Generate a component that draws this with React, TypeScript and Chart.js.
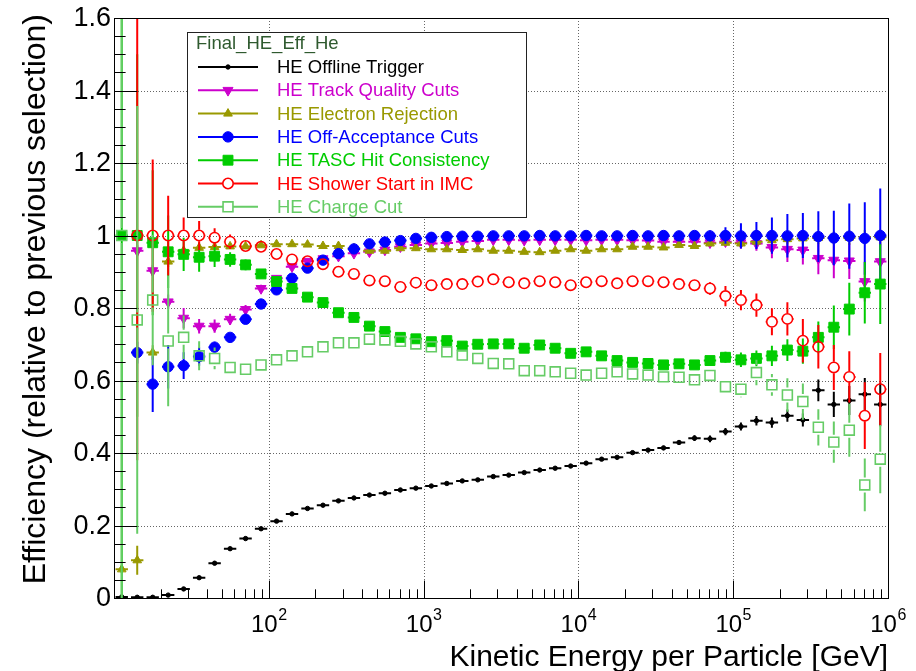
import React, { useEffect, useRef } from 'react';
import { Chart, registerables } from 'chart.js';

Chart.register(...registerables);

// ---------- data ----------
const binCentersLog10 = [
  1.05, 1.15, 1.25, 1.35, 1.45, 1.55, 1.65, 1.75, 1.85, 1.95,
  2.05, 2.15, 2.25, 2.35, 2.45, 2.55, 2.65, 2.75, 2.85, 2.95,
  3.05, 3.15, 3.25, 3.35, 3.45, 3.55, 3.65, 3.75, 3.85, 3.95,
  4.05, 4.15, 4.25, 4.35, 4.45, 4.55, 4.65, 4.75, 4.85, 4.95,
  5.05, 5.15, 5.25, 5.35, 5.45, 5.55, 5.65, 5.75, 5.85, 5.95,
];
const binHalfWidthLog10 = 0.04;

const yTicks = [0, 0.2, 0.4, 0.6, 0.8, 1, 1.2, 1.4, 1.6];
const yTickLabels = ['0', '0.2', '0.4', '0.6', '0.8', '1', '1.2', '1.4', '1.6'];
const xDecadeExponents = [2, 3, 4, 5, 6];

const legendHeader = 'Final_HE_Eff_He';
const xTitle = 'Kinetic Energy per Particle [GeV]';
const yTitle = 'Efficiency (relative to previous selection)';

const offlineTrigger = [
  0.003, 0.002, 0.002, 0.008, 0.025, 0.056, 0.096, 0.136, 0.164, 0.191,
  0.212, 0.232, 0.247, 0.256, 0.268, 0.276, 0.284, 0.289, 0.298, 0.303,
  0.309, 0.316, 0.323, 0.326, 0.335, 0.339, 0.346, 0.353, 0.358, 0.364,
  0.372, 0.383, 0.388, 0.401, 0.408, 0.414, 0.429, 0.441, 0.439, 0.459,
  0.473, 0.489, 0.484, 0.503, 0.491, 0.573, 0.534, 0.545, 0.562, 0.534,
];
const offlineTriggerErr = [
  0.002, 0.002, 0.002, 0.003, 0.004, 0.005, 0.005, 0.005, 0.005, 0.005,
  0.005, 0.004, 0.004, 0.004, 0.004, 0.004, 0.004, 0.004, 0.004, 0.004,
  0.004, 0.004, 0.004, 0.004, 0.004, 0.004, 0.004, 0.004, 0.004, 0.004,
  0.005, 0.005, 0.005, 0.005, 0.006, 0.006, 0.007, 0.008, 0.009, 0.01,
  0.011, 0.013, 0.014, 0.017, 0.018, 0.03, 0.035, 0.04, 0.045, 0.06,
];

const trackQuality = [
  null, 0.958, 0.903, 0.817, 0.772, 0.75, 0.75, 0.769, 0.796, 0.854,
  0.882, 0.914, 0.929, 0.936, 0.943, 0.951, 0.955, 0.96, 0.969, 0.974,
  0.978, 0.979, 0.983, 0.985, 0.988, 0.988, 0.987, 0.988, 0.988, 0.988,
  0.987, 0.988, 0.988, 0.987, 0.986, 0.983, 0.983, 0.983, 0.98, 0.983,
  0.98, 0.978, 0.967, 0.962, 0.96, 0.937, 0.932, 0.93, 0.873, 0.928,
];
const trackQualityErr = [
  null, 0.015, 0.015, 0.02, 0.028, 0.02, 0.018, 0.015, 0.012, 0.01,
  0.008, 0.007, 0.006, 0.005, 0.005, 0.004, 0.004, 0.004, 0.003, 0.003,
  0.003, 0.003, 0.003, 0.003, 0.003, 0.003, 0.003, 0.003, 0.003, 0.003,
  0.003, 0.003, 0.003, 0.004, 0.004, 0.005, 0.006, 0.008, 0.01, 0.012,
  0.015, 0.02, 0.03, 0.035, 0.04, 0.044, 0.05, 0.05, 0.055, 0.06,
];

const electronRejection = [
  0.079, 0.104, 0.677, 0.928, 0.958, 0.966, 0.968, 0.97, 0.97, 0.973,
  0.976, 0.976, 0.975, 0.971, 0.971, 0.965, 0.958, 0.958, 0.965, 0.965,
  0.962, 0.962, 0.96, 0.962, 0.958, 0.958, 0.955, 0.954, 0.958, 0.962,
  0.958, 0.962, 0.962, 0.969, 0.969, 0.967, 0.974, 0.971, 0.978, 0.98,
  0.978, 0.983, 0.987, 0.99, 0.992, 0.993, 0.993, 0.994, 0.995, 0.995,
];
const electronRejectionErr = [
  0.01, 0.04, 0.02, 0.015, 0.01, 0.008, 0.006, 0.005, 0.005, 0.004,
  0.004, 0.004, 0.004, 0.004, 0.004, 0.004, 0.004, 0.004, 0.004, 0.004,
  0.004, 0.004, 0.004, 0.004, 0.004, 0.004, 0.004, 0.004, 0.004, 0.004,
  0.004, 0.004, 0.004, 0.004, 0.004, 0.005, 0.005, 0.006, 0.007, 0.008,
  0.01, 0.012, 0.014, 0.015, 0.016, 0.017, 0.018, 0.02, 0.02, 0.022,
];

const offAcceptance = [
  null, 0.677, 0.59, 0.638, 0.641, 0.666, 0.692, 0.719, 0.769, 0.811,
  0.85, 0.882, 0.91, 0.932, 0.95, 0.963, 0.977, 0.982, 0.986, 0.992,
  0.995, 0.997, 0.998, 0.998, 0.999, 0.999, 0.999, 1.0, 0.999, 0.999,
  1.0, 0.999, 0.999, 1.0, 0.999, 1.0, 0.999, 1.0, 0.999, 1.0,
  0.999, 1.0, 1.0, 0.999, 1.0, 0.997, 0.993, 0.998, 0.992, 1.0,
];
const offAcceptanceErr = [
  null, 0.03, 0.077, 0.06, 0.037, 0.025, 0.015, 0.012, 0.01, 0.008,
  0.007, 0.006, 0.005, 0.004, 0.004, 0.003, 0.003, 0.003, 0.002, 0.002,
  0.002, 0.002, 0.002, 0.002, 0.002, 0.002, 0.002, 0.002, 0.002, 0.002,
  0.002, 0.002, 0.002, 0.003, 0.003, 0.004, 0.006, 0.01, 0.015, 0.023,
  0.035, 0.037, 0.05, 0.06, 0.062, 0.07, 0.075, 0.09, 0.1, 0.13,
];

const tascHit = [
  1.0, 1.0, 0.98, 0.955, 0.948, 0.94, 0.943, 0.934, 0.919, 0.894,
  0.873, 0.854, 0.83, 0.815, 0.787, 0.774, 0.75, 0.735, 0.719, 0.715,
  0.707, 0.71, 0.695, 0.7, 0.701, 0.701, 0.689, 0.698, 0.689, 0.675,
  0.679, 0.668, 0.655, 0.65, 0.647, 0.643, 0.646, 0.643, 0.655, 0.664,
  0.657, 0.661, 0.668, 0.684, 0.681, 0.719, 0.747, 0.797, 0.842, 0.866,
];
const tascHitErr = [
  1.2, 0.5, 0.2, 0.1, 0.046, 0.04, 0.03, 0.02, 0.015, 0.012,
  0.01, 0.008, 0.007, 0.006, 0.006, 0.005, 0.005, 0.005, 0.005, 0.005,
  0.005, 0.005, 0.005, 0.005, 0.005, 0.005, 0.005, 0.005, 0.005, 0.005,
  0.005, 0.006, 0.006, 0.006, 0.007, 0.008, 0.009, 0.01, 0.012, 0.015,
  0.02, 0.022, 0.028, 0.03, 0.035, 0.044, 0.06, 0.073, 0.085, 0.11,
];

const showerStart = [
  null, 1.0, 1.0, 1.0, 1.0, 1.0, 0.994, 0.983, 0.971, 0.969,
  0.949, 0.934, 0.929, 0.921, 0.9, 0.894, 0.876, 0.874, 0.858, 0.87,
  0.863, 0.866, 0.866, 0.873, 0.879, 0.871, 0.868, 0.874, 0.871, 0.863,
  0.871, 0.874, 0.868, 0.874, 0.874, 0.871, 0.866, 0.863, 0.854, 0.833,
  0.822, 0.808, 0.762, 0.77, 0.71, 0.693, 0.636, 0.61, 0.503, 0.576,
];
const showerStartErr = [
  null, 0.62, 0.21, 0.11, 0.05, 0.04, 0.026, 0.02, 0.015, 0.012,
  0.01, 0.008, 0.007, 0.006, 0.006, 0.006, 0.006, 0.006, 0.006, 0.006,
  0.006, 0.006, 0.006, 0.006, 0.006, 0.006, 0.006, 0.006, 0.006, 0.006,
  0.006, 0.006, 0.007, 0.007, 0.008, 0.009, 0.01, 0.014, 0.018, 0.028,
  0.028, 0.032, 0.037, 0.046, 0.06, 0.06, 0.062, 0.071, 0.092, 0.1,
];

const chargeCut = [
  1.0, 0.767, 0.822, 0.709, 0.719, 0.668, 0.661, 0.636, 0.631, 0.643,
  0.657, 0.668, 0.679, 0.693, 0.704, 0.704, 0.714, 0.712, 0.708, 0.701,
  0.693, 0.679, 0.67, 0.661, 0.647, 0.646, 0.627, 0.627, 0.624, 0.62,
  0.615, 0.62, 0.624, 0.618, 0.615, 0.61, 0.609, 0.602, 0.614, 0.583,
  0.576, 0.622, 0.588, 0.56, 0.542, 0.471, 0.43, 0.463, 0.312, 0.383,
];
const chargeCutErr = [
  1.2, 0.59, 0.18, 0.18, 0.06, 0.04, 0.03, 0.02, 0.015, 0.012,
  0.01, 0.008, 0.007, 0.006, 0.006, 0.006, 0.006, 0.006, 0.006, 0.006,
  0.006, 0.006, 0.006, 0.006, 0.006, 0.006, 0.006, 0.006, 0.006, 0.006,
  0.007, 0.007, 0.008, 0.008, 0.009, 0.01, 0.011, 0.013, 0.015, 0.02,
  0.022, 0.035, 0.03, 0.046, 0.05, 0.05, 0.057, 0.073, 0.073, 0.094,
];

const seriesLabels = [
  'HE Offline Trigger',
  'HE Track Quality Cuts',
  'HE Electron Rejection',
  'HE Off-Acceptance Cuts',
  'HE TASC Hit Consistency',
  'HE Shower Start in IMC',
  'HE Charge Cut',
];

// ---------- styles ----------
const FONT = '"Liberation Sans", Arial, Helvetica, sans-serif';
type Style = { color: string; shape: string; radius: number; rot: number; filled: boolean; bw: number };
const seriesStyles: Style[] = [
  { color: '#000000', shape: 'circle', radius: 2.2, rot: 0, filled: true, bw: 1 },
  { color: '#cc00cc', shape: 'triangle', radius: 5.8, rot: 180, filled: true, bw: 1 },
  { color: '#999900', shape: 'triangle', radius: 5, rot: 0, filled: true, bw: 1 },
  { color: '#0000ff', shape: 'circle', radius: 5.2, rot: 0, filled: true, bw: 1 },
  { color: '#00cc00', shape: 'rect', radius: 7, rot: 0, filled: true, bw: 1 },
  { color: '#ff0000', shape: 'circle', radius: 5.2, rot: 0, filled: false, bw: 1.6 },
  { color: '#66cc66', shape: 'rect', radius: 7, rot: 0, filled: false, bw: 1.6 },
];

const seriesValues = [offlineTrigger, trackQuality, electronRejection, offAcceptance, tascHit, showerStart, chargeCut];
const seriesErrors = [offlineTriggerErr, trackQualityErr, electronRejectionErr, offAcceptanceErr, tascHitErr, showerStartErr, chargeCutErr];

function markerPath(ctx: CanvasRenderingContext2D, shape: string, x: number, y: number, r: number, rot: number) {
  ctx.beginPath();
  if (shape === 'circle') {
    ctx.arc(x, y, r, 0, Math.PI * 2);
  } else if (shape === 'triangle') {
    let a = (rot * Math.PI) / 180;
    ctx.moveTo(x + Math.sin(a) * r, y - Math.cos(a) * r);
    a += (2 * Math.PI) / 3;
    ctx.lineTo(x + Math.sin(a) * r, y - Math.cos(a) * r);
    a += (2 * Math.PI) / 3;
    ctx.lineTo(x + Math.sin(a) * r, y - Math.cos(a) * r);
    ctx.closePath();
  } else {
    const s = Math.SQRT1_2 * r;
    ctx.rect(x - s, y - s, 2 * s, 2 * s);
  }
}

const errorBarPlugin = {
  id: 'errorBars',
  beforeDatasetDraw(chart: any, args: any) {
    const ds = chart.data.datasets[args.index];
    const { ctx, chartArea: a } = chart;
    const xs = chart.scales.x;
    const ys = chart.scales.y;
    ctx.save();
    ctx.beginPath();
    ctx.rect(a.left, a.top, a.right - a.left, a.bottom - a.top);
    ctx.clip();
    ctx.strokeStyle = ds.borderColor;
    ctx.lineWidth = 2;
    ctx.lineCap = 'butt';
    const g = ds.errGap;
    ctx.beginPath();
    for (const p of ds.data) {
      const px = xs.getPixelForValue(p.x);
      const py = ys.getPixelForValue(p.y);
      const lg = Math.log10(p.x);
      const xl = xs.getPixelForValue(Math.pow(10, lg - binHalfWidthLog10));
      const xr = xs.getPixelForValue(Math.pow(10, lg + binHalfWidthLog10));
      const yt = ys.getPixelForValue(p.y + p.e);
      const yb = ys.getPixelForValue(p.y - p.e);
      if (px - g > xl) { ctx.moveTo(xl, py); ctx.lineTo(px - g, py); }
      if (xr > px + g) { ctx.moveTo(px + g, py); ctx.lineTo(xr, py); }
      if (py - g > yt) { ctx.moveTo(px, yt); ctx.lineTo(px, py - g); }
      if (yb > py + g) { ctx.moveTo(px, py + g); ctx.lineTo(px, yb); }
    }
    ctx.stroke();
    ctx.restore();
  },
};

const frameAxesPlugin = {
  id: 'frameAxes',
  beforeDatasetsDraw(chart: any) {
    const { ctx, chartArea: a } = chart;
    const xs = chart.scales.x;
    const ys = chart.scales.y;
    ctx.save();
    ctx.strokeStyle = '#666666';
    ctx.lineWidth = 1;
    ctx.setLineDash([1, 2]);
    ctx.beginPath();
    for (const v of yTicks) {
      const y = Math.round(ys.getPixelForValue(v)) + 0.5;
      if (y <= a.top + 1 || y >= a.bottom - 1) continue;
      ctx.moveTo(a.left, y);
      ctx.lineTo(a.right, y);
    }
    for (const e of xDecadeExponents) {
      const x = Math.round(xs.getPixelForValue(Math.pow(10, e))) + 0.5;
      if (x <= a.left + 1 || x >= a.right - 1) continue;
      ctx.moveTo(x, a.top);
      ctx.lineTo(x, a.bottom);
    }
    ctx.stroke();
    ctx.restore();
  },
  afterDatasetsDraw(chart: any) {
    const { ctx, chartArea: a } = chart;
    const xs = chart.scales.x;
    const ys = chart.scales.y;
    const w = a.right - a.left;
    const h = a.bottom - a.top;
    ctx.save();
    // frame
    ctx.strokeStyle = '#000000';
    ctx.lineWidth = 1;
    ctx.strokeRect(Math.round(a.left) + 0.5, Math.round(a.top) + 0.5, Math.round(w), Math.round(h));
    // y ticks
    const yMaj = 0.03 * w;
    ctx.beginPath();
    for (let i = 0; i < yTicks.length; i++) {
      const v = yTicks[i];
      const y = Math.round(ys.getPixelForValue(v)) + 0.5;
      ctx.moveTo(a.left, y);
      ctx.lineTo(a.left + yMaj, y);
      if (i < yTicks.length - 1) {
        const step = (yTicks[i + 1] - v) / 4;
        for (let k = 1; k < 4; k++) {
          const ym = Math.round(ys.getPixelForValue(v + k * step)) + 0.5;
          ctx.moveTo(a.left, ym);
          ctx.lineTo(a.left + yMaj / 2, ym);
        }
      }
    }
    // x ticks
    const xMaj = 0.03 * h;
    const e0 = Math.round(Math.log10(xs.min));
    const e1 = Math.round(Math.log10(xs.max));
    for (let e = e0; e <= e1; e++) {
      for (let m = 1; m <= 9; m++) {
        const v = m * Math.pow(10, e);
        if (v <= xs.min || v > xs.max) continue;
        const x = Math.round(xs.getPixelForValue(v)) + 0.5;
        ctx.moveTo(x, a.bottom);
        ctx.lineTo(x, a.bottom - (m === 1 ? xMaj : xMaj / 2));
      }
    }
    ctx.stroke();

    // y labels
    ctx.fillStyle = '#000000';
    ctx.font = `27px ${FONT}`;
    ctx.textAlign = 'right';
    ctx.textBaseline = 'middle';
    yTicks.forEach((v, i) => {
      ctx.fillText(yTickLabels[i], a.left - 3, ys.getPixelForValue(v) + 1);
    });
    // x labels 10^n
    ctx.textAlign = 'left';
    ctx.textBaseline = 'alphabetic';
    for (const e of xDecadeExponents) {
      const x = xs.getPixelForValue(Math.pow(10, e));
      ctx.font = `24px ${FONT}`;
      const wb = ctx.measureText('10').width;
      ctx.font = `16px ${FONT}`;
      const we = ctx.measureText(String(e)).width;
      const x0 = x - (wb + we) / 2;
      ctx.font = `24px ${FONT}`;
      ctx.fillText('10', x0, a.bottom + 34);
      ctx.font = `16px ${FONT}`;
      ctx.fillText(String(e), x0 + wb + 0.5, a.bottom + 22);
    }
    // titles
    ctx.font = `30px ${FONT}`;
    ctx.textAlign = 'right';
    ctx.fillText(xTitle, a.right, 666);
    ctx.save();
    ctx.translate(45, a.top - 4);
    ctx.rotate(-Math.PI / 2);
    ctx.font = `32px ${FONT}`;
    ctx.textAlign = 'right';
    ctx.fillText(yTitle, 0, 0);
    ctx.restore();
    ctx.restore();
  },
  afterDraw(chart: any) {
    const { ctx } = chart;
    ctx.save();
    const bx = 187, by = 32, bw = 339, bh = 185;
    ctx.fillStyle = '#ffffff';
    ctx.fillRect(bx, by, bw, bh);
    ctx.strokeStyle = '#222222';
    ctx.lineWidth = 1;
    ctx.strokeRect(bx + 0.5, by + 0.5, bw, bh);
    ctx.font = `18.5px ${FONT}`;
    ctx.textBaseline = 'middle';
    ctx.textAlign = 'left';
    ctx.fillStyle = '#2f5a2f';
    ctx.fillText(legendHeader, 196, 44);
    seriesLabels.forEach((lab, i) => {
      const st = seriesStyles[i];
      const y = 67 + 23.3 * i;
      ctx.strokeStyle = st.color;
      ctx.lineWidth = 2;
      ctx.beginPath();
      ctx.moveTo(198, y);
      ctx.lineTo(258, y);
      ctx.stroke();
      markerPath(ctx, st.shape, 228, y, st.radius, st.rot);
      ctx.fillStyle = st.filled ? st.color : '#ffffff';
      ctx.fill();
      ctx.lineWidth = st.bw;
      ctx.stroke();
      ctx.fillStyle = st.color;
      ctx.fillText(lab, 277, y + 1);
    });
    ctx.restore();
  },
};

export default function App() {
  const ref = useRef<HTMLCanvasElement>(null);
  useEffect(() => {
    document.body.style.margin = '0';
    const datasets = seriesLabels.map((label, i) => {
      const st = seriesStyles[i];
      const vals = seriesValues[i];
      const errs = seriesErrors[i];
      const data: any[] = [];
      binCentersLog10.forEach((c, k) => {
        const v = vals[k];
        if (v === null || v === undefined) return;
        data.push({ x: Math.pow(10, c), y: v, e: errs[k] ?? 0 });
      });
      return {
        label,
        data,
        showLine: false,
        order: seriesLabels.length - 1 - i,
        borderColor: st.color,
        backgroundColor: st.color,
        pointStyle: st.shape,
        pointRadius: st.radius,
        pointHoverRadius: st.radius,
        pointRotation: st.rot,
        pointBackgroundColor: st.filled ? st.color : 'rgba(0,0,0,0)',
        pointBorderColor: st.color,
        pointBorderWidth: st.bw,
        errGap: st.filled ? 0 : st.radius + 0.5,
      };
    });
    const chart = new Chart(ref.current as HTMLCanvasElement, {
      type: 'scatter',
      data: { datasets } as any,
      options: {
        animation: false,
        responsive: false,
        devicePixelRatio: 1,
        events: [],
        layout: { padding: { left: 114, right: 28, top: 18, bottom: 73 } },
        scales: {
          x: { type: 'logarithmic', min: 10, max: 1e6, display: false },
          y: { type: 'linear', min: 0, max: 1.6, display: false },
        },
        plugins: { legend: { display: false }, tooltip: { enabled: false } },
      } as any,
      plugins: [errorBarPlugin, frameAxesPlugin],
    });
    return () => chart.destroy();
  }, []);
  return (
    <div style={{ width: 916, height: 671 }}>
      <canvas ref={ref} width={916} height={671} style={{ display: 'block' }} />
    </div>
  );
}
